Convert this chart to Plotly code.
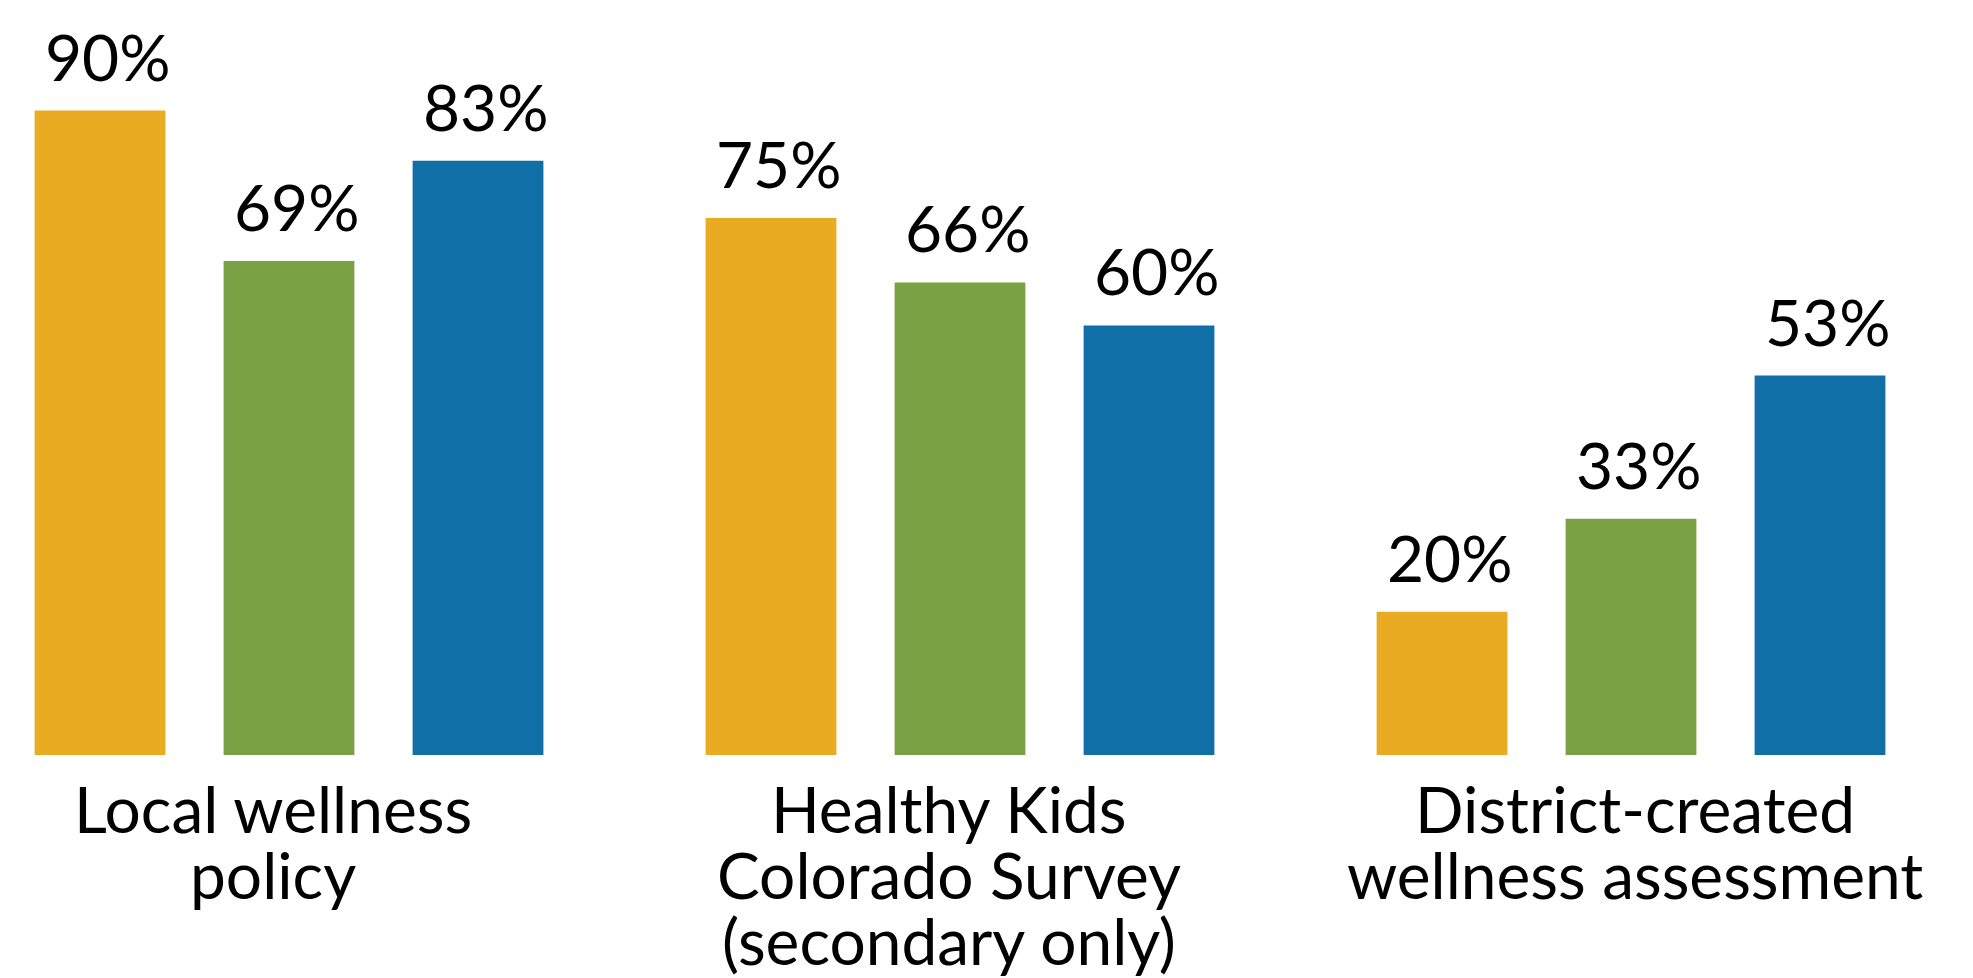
import plotly.graph_objects as go

categories = ["Local wellness policy", "Healthy Kids Colorado Survey (secondary only)",
              "District-created wellness assessment"]
label_lines = [["Local wellness", "policy"],
               ["Healthy Kids", "Colorado Survey", "(secondary only)"],
               ["District-created", "wellness assessment"]]
series_names = ["Series A", "Series B", "Series C"]
values_a = [90, 75, 20]
values_b = [69, 66, 33]
values_c = [83, 60, 53]
colors = ["#E9AB21", "#7AA245", "#116FA7"]
label_xshift = [-16, -11, 4]

FONT = "Lato"
FS = 64

fig = go.Figure()
all_vals = [values_a, values_b, values_c]
for name, vals, col in zip(series_names, all_vals, colors):
    fig.add_trace(go.Bar(x=categories, y=vals, name=name, marker_color=col,
                         marker_line_width=0, hoverinfo="x+y"))

slot = (1 - 0.155) / 3
ann = []
for j, vals in enumerate(all_vals):
    for i, v in enumerate(vals):
        ann.append(dict(x=i + (j - 1) * slot, y=v, xref="x", yref="y",
                        text=f"{v}%", showarrow=False, yanchor="bottom",
                        xanchor="center", xshift=8, yshift=14,
                        font=dict(family=FONT, size=FS, color="black")))
for i, lines in enumerate(label_lines):
    for k, line in enumerate(lines):
        ann.append(dict(x=i, y=0, xref="x", yref="paper", text=line,
                        showarrow=False, yanchor="top", xanchor="center",
                        xshift=label_xshift[i], yshift=-13 - 66 * k,
                        font=dict(family=FONT, size=FS, color="black")))

fig.update_layout(
    width=1973, height=978,
    margin=dict(l=0, r=0, t=31, b=231),
    barmode="group", bargap=0.155, bargroupgap=0.308,
    plot_bgcolor="white", paper_bgcolor="white",
    showlegend=False,
    annotations=ann,
    xaxis=dict(range=[-0.4188, 2.5216], showticklabels=False, showgrid=False,
               zeroline=False, showline=False, ticks=""),
    yaxis=dict(range=[0, 100], visible=False, showgrid=False, zeroline=False),
)

fig.write_html("out.html")
